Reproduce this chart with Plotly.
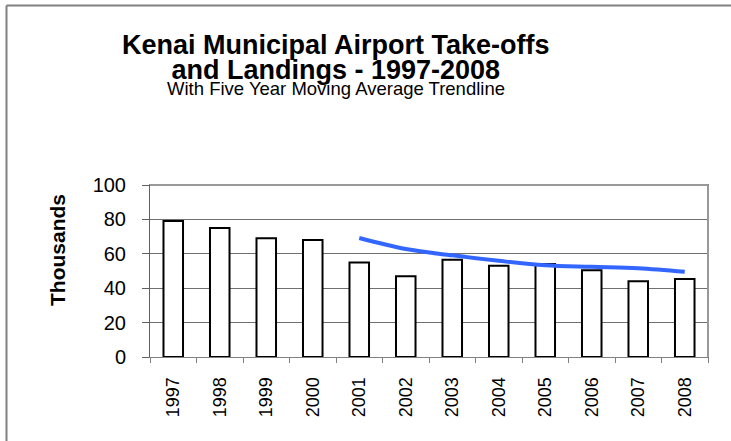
import plotly.graph_objects as go

years = ["1997", "1998", "1999", "2000", "2001", "2002", "2003", "2004", "2005", "2006", "2007", "2008"]
operations = [79, 75, 69, 68, 55, 47, 56.5, 53, 54, 50.5, 44, 45.3]
ma_years = ["2001", "2002", "2003", "2004", "2005", "2006", "2007", "2008"]
ma_values = [69.2, 62.8, 59.1, 55.9, 53.3, 52.4, 51.6, 49.5]
y_ticks = [0, 20, 40, 60, 80, 100]

FONT = "Arial, Liberation Sans, sans-serif"

fig = go.Figure()
fig.add_trace(go.Bar(x=years, y=operations, marker=dict(color="white", line=dict(color="black", width=2)),
                     width=0.42, showlegend=False))
fig.add_trace(go.Scatter(x=ma_years, y=ma_values, mode="lines", line=dict(color="#3366FF", width=4, shape="spline"),
                         showlegend=False))

L, R, T, B = 150, 23, 185, 84
W, H = 731, 441
pw, ph = W - L - R, H - T - B

def px(x):
    return (x - L) / pw

def py(y):
    return (H - B - y) / ph

title_html = ("<span style='font-size:27px'><b>Kenai Municipal Airport Take-offs</b></span><br>"
              "<span style='font-size:27px'><b>and Landings - 1997-2008</b></span>")

fig.update_layout(
    width=W, height=H,
    margin=dict(l=L, r=R, t=T, b=B, autoexpand=False),
    paper_bgcolor="white", plot_bgcolor="white",
    font=dict(family=FONT, color="black"),
    xaxis=dict(type="category", categoryorder="array", categoryarray=years,
               tickangle=-90, tickfont=dict(size=18), ticks="outside", ticklen=5,
               tickcolor="#808080", tickson="boundaries", showline=True, linecolor="#808080",
               linewidth=1, mirror=True, showgrid=False, ticklabelstandoff=12, automargin=False),
    yaxis=dict(range=[0, 100], tickvals=y_ticks, tickfont=dict(size=20), ticks="outside", ticklen=7,
               tickcolor="#606060", showline=True, linecolor="#606060", linewidth=1, mirror=True,
               showgrid=True, gridcolor="#707070", gridwidth=1, zeroline=False, ticklabelstandoff=12,
               automargin=False),
    shapes=[
        dict(type="line", xref="paper", yref="paper", x0=px(6.5), x1=px(740), y0=py(5.5), y1=py(5.5),
             line=dict(color="#808080", width=2)),
        dict(type="line", xref="paper", yref="paper", x0=px(6.5), x1=px(6.5), y0=py(5.5), y1=py(450),
             line=dict(color="#808080", width=2)),
        dict(type="line", xref="paper", yref="paper", x0=1, x1=1, y0=0, y1=1,
             line=dict(color="#999999", width=2)),
        dict(type="line", xref="paper", yref="paper", x0=0, x1=1, y0=1, y1=1,
             line=dict(color="#999999", width=2)),
    ],
    annotations=[
        dict(text=title_html, xref="paper", yref="paper", x=px(336), y=py(57.5),
             showarrow=False, font=dict(size=19), xanchor="center", yanchor="middle", align="center"),
        dict(text="With Five Year Moving Average Trendline", xref="paper", yref="paper", x=px(336), y=py(89),
             showarrow=False, font=dict(size=18.5), xanchor="center", yanchor="middle"),
        dict(text="<b>Thousands</b>", xref="paper", yref="paper", x=px(57), y=py(250), textangle=-90,
             showarrow=False, font=dict(size=21), xanchor="center", yanchor="middle"),
    ],
)

fig.write_html("out.html", config={"displayModeBar": False},
               post_script="document.body.style.margin='0px';document.body.style.overflow='hidden';")
